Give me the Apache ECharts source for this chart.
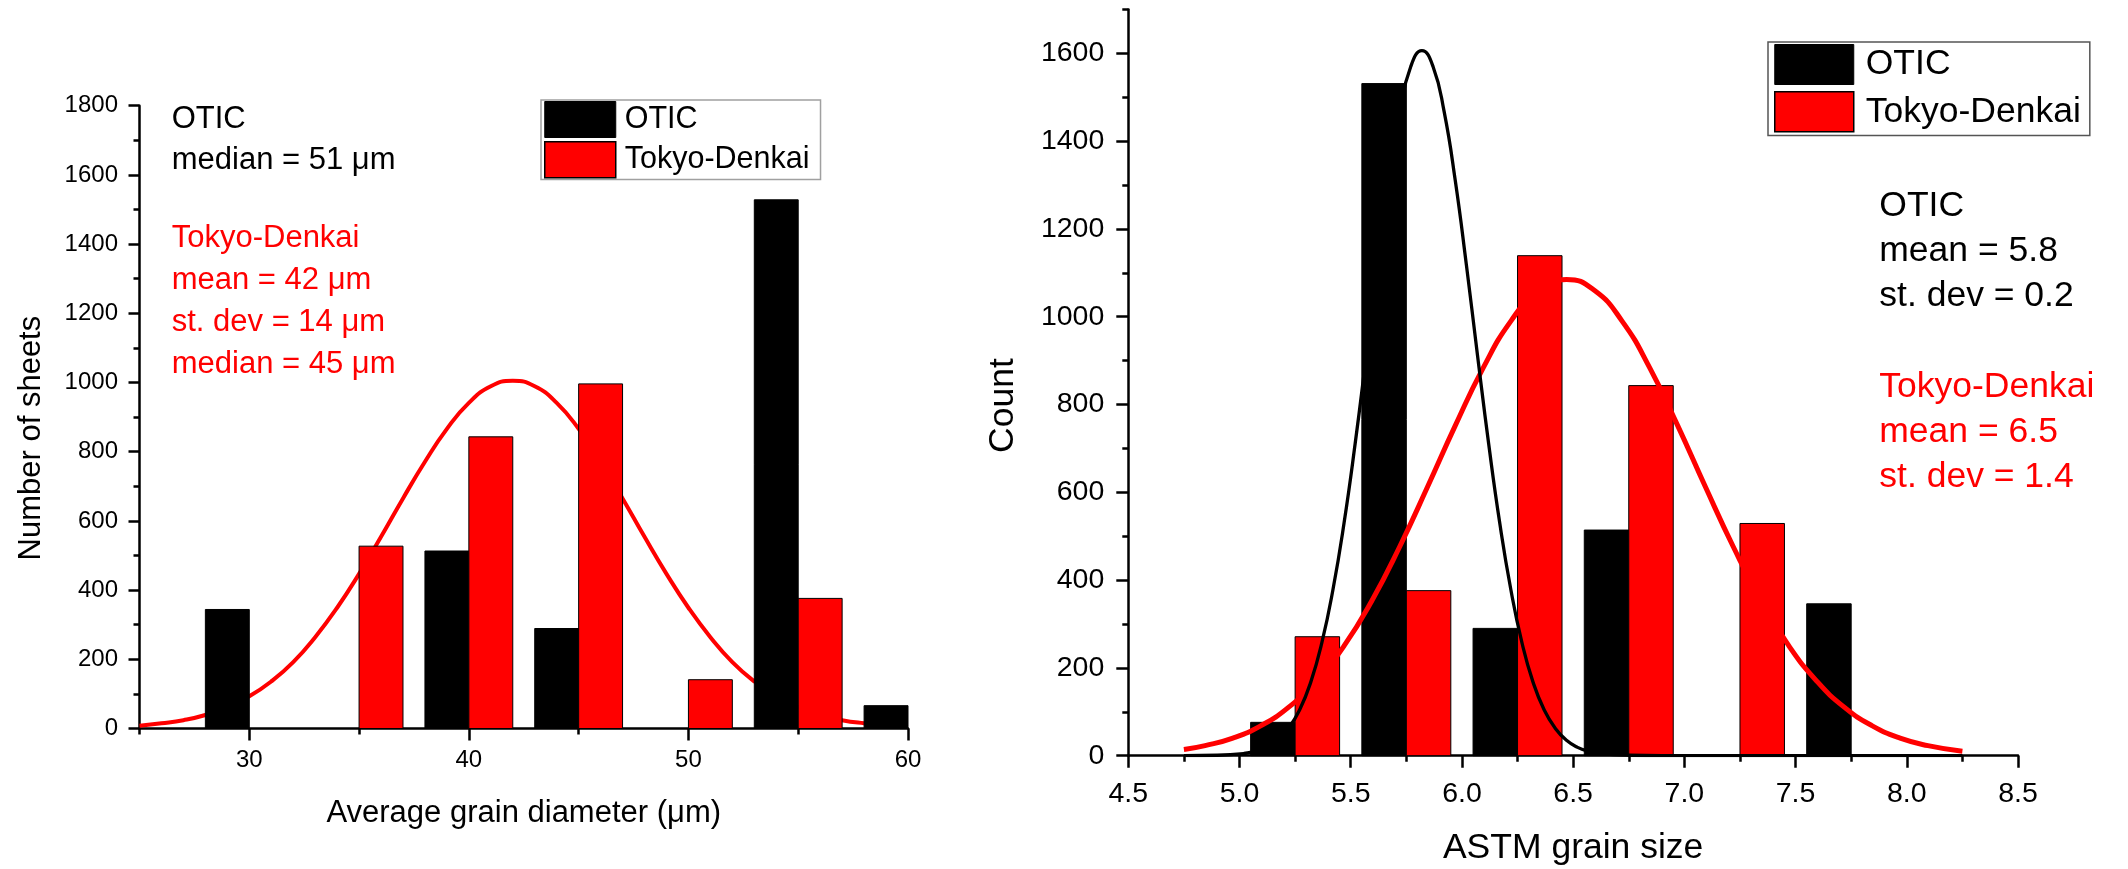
<!DOCTYPE html>
<html>
<head>
<meta charset="utf-8">
<script src="https://cdn.jsdelivr.net/npm/echarts@6/dist/echarts.min.js"></script>
<style>
html,body{margin:0;padding:0;background:#fff;}
#c{width:2128px;height:869px;}
</style>
</head>
<body>
<div id="c"></div>
<script>
// ---------- DATA ----------
// Left panel: average grain diameter histogram (bin edges in µm, counts)
const leftOticLo = [28, 38, 43, 53, 58];
const leftOticHi = [30, 40, 45, 55, 60];
const leftOticCount = [344, 513, 289, 1528, 66];
const leftTokyoLo = [35, 40, 45, 50, 55];
const leftTokyoHi = [37, 42, 47, 52, 57];
const leftTokyoCount = [527, 843, 996, 141, 376];
// Left panel fitted curve (Tokyo-Denkai)
const leftFitX = [25,26,27,28,29,30,31,32,33,34,35,36,37,38,39,40,41,42,43,44,45,46,47,48,49,50,51,52,53,54,55,56,57,58,59,60];
const leftFitY = [8,15,24,39,62,93,136,192,264,349,447,554,665,771,866,941,989,1005,989,941,866,771,665,554,447,349,264,192,136,93,62,39,24,15,9,5];

// Right panel: ASTM grain size histogram
const rightOticLo = [5.05, 5.55, 6.05, 6.55, 7.55];
const rightOticHi = [5.25, 5.75, 6.25, 6.75, 7.75];
const rightOticCount = [76, 1531, 290, 514, 346];
const rightTokyoLo = [5.25, 5.75, 6.25, 6.75, 7.25];
const rightTokyoHi = [5.45, 5.95, 6.45, 6.95, 7.45];
const rightTokyoCount = [271, 376, 1139, 843, 529];
// Right panel fitted curves
const rightTokyoFitX = [4.75,4.845,4.97,5.095,5.22,5.345,5.47,5.595,5.72,5.845,5.97,6.095,6.22,6.345,6.47,6.595,6.72,6.845,6.97,7.095,7.22,7.345,7.47,7.595,7.72,7.845,7.97,8.095,8.25];
const rightTokyoFitY = [14,23,40,68,110,170,250,353,476,612,752,883,990,1060,1085,1060,990,883,752,612,476,353,250,170,110,68,40,23,10];
const rightOticFitX = [4.75,4.9,5.02,5.07,5.12,5.17,5.22,5.27,5.32,5.37,5.42,5.47,5.52,5.57,5.62,5.67,5.72,5.77,5.82,5.87,5.92,5.97,6.02,6.07,6.12,6.17,6.22,6.27,6.32,6.37,6.42,6.47,6.52,6.57,6.62,6.75,6.9,7.5,8.0,8.25];
const rightOticFitY = [0,1,5,10,19,35,62,104,167,257,378,530,711,912,1118,1310,1467,1570,1606,1570,1467,1310,1118,912,711,530,378,257,167,104,62,35,19,10,5,1,0,0,0,0];

// Tick values
const leftXTicks = [30, 40, 50, 60];
const leftXMinorTicks = [25, 35, 45, 55];
const rightYTicks = [0, 200, 400, 600, 800, 1000, 1200, 1400, 1600];
const rightYMinorTicks = [100, 300, 500, 700, 900, 1100, 1300, 1500, 1700];

// Texts
const seriesNames = ['OTIC', 'Tokyo-Denkai'];
const leftNoteOtic = ['OTIC', 'median = 51 \u03bcm'];
const leftNoteTokyo = ['Tokyo-Denkai', 'mean = 42 \u03bcm', 'st. dev = 14 \u03bcm', 'median = 45 \u03bcm'];
const rightNoteOtic = ['OTIC', 'mean = 5.8', 'st. dev = 0.2'];
const rightNoteTokyo = ['Tokyo-Denkai', 'mean = 6.5', 'st. dev = 1.4'];
const leftXName = 'Average grain diameter (\u03bcm)';
const leftYName = 'Number of sheets';
const rightXName = 'ASTM grain size';
const rightYName = 'Count';

// ---------- CHART ----------
const FONT = '"Liberation Sans", Arial, Helvetica, sans-serif';
const BLACK = '#000000', RED = '#ff0000';
const zip = (a, b) => a.map((v, i) => [v, b[i]]);
const bins = (lo, hi, c) => lo.map((v, i) => [v, hi[i], c[i]]);
const axisLS = {color: '#000', width: 2.5};

function renderBin(params, api) {
  const lo = api.value(0), hi = api.value(1), v = api.value(2);
  const a = api.coord([lo, v]);
  const b = api.coord([hi, 0]);
  return {
    type: 'rect',
    shape: {x: a[0], y: a[1], width: b[0] - a[0], height: b[1] - a[1]},
    style: {fill: api.visual('color'), stroke: '#000', lineWidth: 1}
  };
}

function noteTexts(lines, x, y0, step, color, size) {
  return lines.map((t, i) => ({
    type: 'text', x: x, y: y0 + i * step, silent: true,
    style: {text: t, fill: color, fontSize: size, fontFamily: FONT,
            verticalAlign: 'middle', textVerticalAlign: 'middle', align: 'left'}
  }));
}

const chart = echarts.init(document.getElementById('c'), null, {renderer: 'canvas'});
const option = {
  backgroundColor: '#fff',
  animation: false,
  textStyle: {fontFamily: FONT},
  grid: [
    {left: 139.5, top: 105.7, width: 768.5, height: 622.8, containLabel: false, outerBoundsMode: 'none'},
    {left: 1128.3, top: 9.4, width: 889.7, height: 746.3, containLabel: false, outerBoundsMode: 'none'}
  ],
  xAxis: [
    {
      gridIndex: 0, type: 'value', min: 25, max: 60, interval: 5, position: 'bottom',
      axisLine: {show: true, onZero: false, lineStyle: axisLS},
      axisTick: {show: true, length: 12, lineStyle: axisLS, customValues: leftXTicks},
      axisLabel: {customValues: leftXTicks, fontSize: 24, color: '#000', margin: 20, fontFamily: FONT,
                  formatter: v => (v % 10 === 0 ? String(v) : '')},
      splitLine: {show: false},
      name: leftXName, nameLocation: 'middle', nameGap: 69,
      nameTextStyle: {fontSize: 31, color: '#000', fontFamily: FONT}
    },
    {
      gridIndex: 0, type: 'value', min: 25, max: 60, position: 'bottom',
      axisLine: {show: false, onZero: false},
      axisTick: {show: true, length: 6, lineStyle: axisLS, customValues: leftXMinorTicks},
      axisLabel: {show: false}, splitLine: {show: false}
    },
    {
      gridIndex: 1, type: 'value', min: 4.5, max: 8.5, interval: 0.5, position: 'bottom',
      axisLine: {show: true, onZero: false, lineStyle: axisLS},
      axisTick: {show: true, length: 12, lineStyle: axisLS},
      minorTick: {show: true, splitNumber: 2, length: 6, lineStyle: axisLS},
      axisLabel: {fontSize: 28.5, color: '#000', margin: 23.5, fontFamily: FONT, formatter: v => v.toFixed(1)},
      splitLine: {show: false}, minorSplitLine: {show: false},
      name: rightXName, nameLocation: 'middle', nameGap: 75,
      nameTextStyle: {fontSize: 35.5, color: '#000', fontFamily: FONT}
    }
  ],
  yAxis: [
    {
      gridIndex: 0, type: 'value', min: 0, max: 1800, interval: 200, position: 'left',
      axisLine: {show: true, onZero: false, lineStyle: axisLS},
      axisTick: {show: true, length: 11, lineStyle: axisLS},
      minorTick: {show: true, splitNumber: 2, length: 6, lineStyle: axisLS},
      axisLabel: {fontSize: 24, color: '#000', margin: 21.5, fontFamily: FONT, formatter: v => String(v)},
      splitLine: {show: false}, minorSplitLine: {show: false},
      name: leftYName, nameLocation: 'middle', nameGap: 93,
      nameTextStyle: {fontSize: 31, color: '#000', fontFamily: FONT, padding: [0, 42, 0, 0]}
    },
    {
      gridIndex: 1, type: 'value', min: 0, max: 1700, interval: 200, position: 'left',
      axisLine: {show: true, onZero: false, lineStyle: axisLS},
      axisTick: {show: true, length: 12, lineStyle: axisLS, customValues: rightYTicks},
      axisLabel: {customValues: rightYTicks, fontSize: 28.5, color: '#000', margin: 24, fontFamily: FONT,
                  formatter: v => (v % 200 === 0 ? String(v) : '')},
      splitLine: {show: false},
      name: rightYName, nameLocation: 'middle', nameGap: 107,
      nameTextStyle: {fontSize: 35.5, color: '#000', fontFamily: FONT, padding: [0, 46, 0, 0]}
    },
    {
      gridIndex: 1, type: 'value', min: 0, max: 1700, position: 'left',
      axisLine: {show: false, onZero: false},
      axisTick: {show: true, length: 6, lineStyle: axisLS, customValues: rightYMinorTicks},
      axisLabel: {show: false}, splitLine: {show: false}
    }
  ],
  legend: [
    {
      left: 541, top: 100, orient: 'vertical', padding: [1, 11, 1, 3], itemGap: 3,
      itemWidth: 71, itemHeight: 36, borderColor: '#a0a0a0', borderWidth: 1.5,
      icon: 'rect', selectedMode: false,
      textStyle: {fontSize: 30.5, color: '#000', fontFamily: FONT, padding: [0, 0, 0, 4]},
      data: [
        {name: seriesNames[0], itemStyle: {color: BLACK, borderColor: '#000', borderWidth: 1}},
        {name: seriesNames[1], itemStyle: {color: RED, borderColor: '#000', borderWidth: 1.5}}
      ]
    },
    {
      left: 1768, top: 42, orient: 'vertical', padding: [2, 9, 3, 6], itemGap: 6,
      itemWidth: 79, itemHeight: 40, borderColor: '#555', borderWidth: 1.5,
      icon: 'rect', selectedMode: false,
      textStyle: {fontSize: 35.5, color: '#000', fontFamily: FONT, padding: [0, 0, 0, 7]},
      data: [
        {name: seriesNames[0], itemStyle: {color: BLACK, borderColor: '#000', borderWidth: 1}},
        {name: seriesNames[1], itemStyle: {color: RED, borderColor: '#000', borderWidth: 1.5}}
      ]
    }
  ],
  series: [
    {
      name: 'Tokyo-Denkai fit (diameter)', type: 'line', xAxisIndex: 0, yAxisIndex: 0,
      data: zip(leftFitX, leftFitY), smooth: true, showSymbol: false, silent: true,
      lineStyle: {color: RED, width: 4}, itemStyle: {color: RED}, z: 1
    },
    {
      name: seriesNames[0], type: 'custom', xAxisIndex: 0, yAxisIndex: 0, renderItem: renderBin,
      encode: {x: [0, 1], y: 2}, data: bins(leftOticLo, leftOticHi, leftOticCount),
      itemStyle: {color: BLACK}, z: 2, silent: true
    },
    {
      name: seriesNames[1], type: 'custom', xAxisIndex: 0, yAxisIndex: 0, renderItem: renderBin,
      encode: {x: [0, 1], y: 2}, data: bins(leftTokyoLo, leftTokyoHi, leftTokyoCount),
      itemStyle: {color: RED}, z: 2, silent: true
    },
    {
      name: seriesNames[0], type: 'custom', xAxisIndex: 2, yAxisIndex: 1, renderItem: renderBin,
      encode: {x: [0, 1], y: 2}, data: bins(rightOticLo, rightOticHi, rightOticCount),
      itemStyle: {color: BLACK}, z: 2, silent: true
    },
    {
      name: seriesNames[1], type: 'custom', xAxisIndex: 2, yAxisIndex: 1, renderItem: renderBin,
      encode: {x: [0, 1], y: 2}, data: bins(rightTokyoLo, rightTokyoHi, rightTokyoCount),
      itemStyle: {color: RED}, z: 2, silent: true
    },
    {
      name: 'Tokyo-Denkai fit (ASTM)', type: 'line', xAxisIndex: 2, yAxisIndex: 1,
      data: zip(rightTokyoFitX, rightTokyoFitY), smooth: true, showSymbol: false, silent: true,
      lineStyle: {color: RED, width: 5}, itemStyle: {color: RED}, z: 3
    },
    {
      name: 'OTIC fit (ASTM)', type: 'line', xAxisIndex: 2, yAxisIndex: 1,
      data: zip(rightOticFitX, rightOticFitY), smooth: true, showSymbol: false, silent: true,
      lineStyle: {color: BLACK, width: 3.3}, itemStyle: {color: BLACK}, z: 3
    }
  ],
  graphic: [].concat(
    noteTexts(leftNoteOtic, 171.7, 119.9, 41, '#000', 31),
    noteTexts(leftNoteTokyo, 171.7, 238.2, 42, RED, 31),
    noteTexts(rightNoteOtic, 1879.3, 205.9, 45, '#000', 35.5),
    noteTexts(rightNoteTokyo, 1879.3, 386.9, 45, RED, 35.5)
  )
};
chart.setOption(option);
</script>
</body>
</html>
